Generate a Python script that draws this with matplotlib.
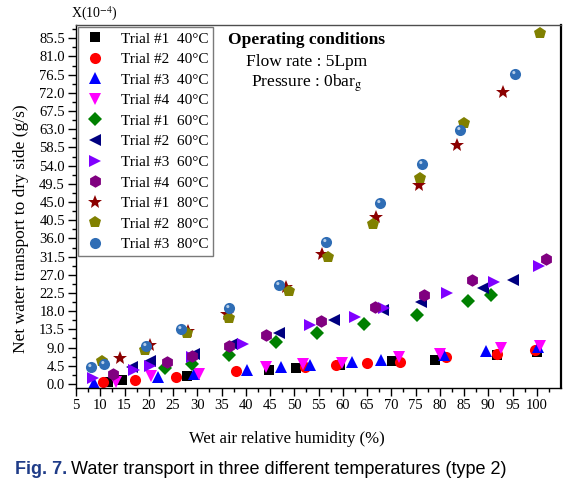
import numpy as np
import matplotlib
matplotlib.use("Agg")
import matplotlib.pyplot as plt
from matplotlib.path import Path

plt.rcParams['font.family'] = ['Liberation Serif', 'DejaVu Serif']
plt.rcParams['mathtext.fontset'] = 'stix'

# ---- data (x: wet air RH %, y: net water transport x1e-4 g/s) ----
t1_40_x = [11.5, 14.4, 27.8, 44.8, 50.3, 59.5, 70.2, 79.0, 91.8, 100.0]
t1_40_y = [0.5, 1.1, 1.9, 3.5, 4.0, 4.6, 5.6, 6.0, 7.1, 7.8]
t2_40_x = [10.5, 17.1, 25.6, 37.9, 52.3, 58.5, 64.9, 71.7, 81.3, 91.8, 99.7]
t2_40_y = [0.4, 1.1, 1.7, 3.1, 4.2, 4.8, 5.2, 5.4, 6.6, 7.5, 8.5]
t3_40_x = [8.8, 21.8, 29.3, 40.2, 47.2, 53.2, 61.9, 67.8, 80.8, 89.6, 100.3]
t3_40_y = [0.2, 1.7, 2.5, 3.5, 4.2, 4.8, 5.4, 6.0, 7.1, 8.1, 9.1]
t4_40_x = [13.2, 20.4, 30.4, 44.1, 51.8, 59.9, 71.5, 80.0, 92.7, 100.7]
t4_40_y = [0.6, 1.9, 2.5, 4.1, 4.9, 5.3, 6.7, 7.4, 8.8, 9.5]

t1_60_x = [23.4, 28.9, 36.5, 46.3, 54.7, 64.3, 75.4, 85.9, 90.6]
t1_60_y = [4.0, 5.0, 7.2, 10.4, 12.6, 14.8, 17.1, 20.4, 22.1]
t2_60_x = [16.5, 20.3, 29.3, 37.2, 46.8, 58.1, 68.3, 76.1, 88.9, 95.0]
t2_60_y = [4.2, 5.6, 7.5, 10.0, 12.6, 15.9, 18.2, 20.2, 23.7, 25.6]
t3_60_x = [8.6, 17.0, 20.3, 28.9, 39.5, 53.2, 62.6, 68.4, 81.5, 91.1, 100.5]
t3_60_y = [1.5, 3.5, 4.4, 6.7, 10.0, 14.5, 16.6, 18.9, 22.5, 25.1, 29.3]
t4_60_x = [12.7, 23.7, 28.9, 36.5, 44.2, 55.6, 66.6, 76.7, 86.6, 101.8]
t4_60_y = [2.5, 5.4, 6.8, 9.3, 12.0, 15.5, 19.0, 21.9, 25.8, 30.9]

t1_80_x = [14.1, 20.2, 28.1, 36.1, 48.3, 55.8, 66.9, 75.8, 83.5, 93.1]
t1_80_y = [6.4, 9.6, 13.0, 17.3, 23.9, 32.1, 41.2, 49.2, 59.1, 72.2]
t2_80_x = [10.4, 19.2, 27.8, 36.5, 48.9, 57.0, 66.3, 76.0, 84.9, 100.7]
t2_80_y = [5.6, 8.4, 12.6, 16.3, 22.9, 31.5, 39.5, 50.9, 64.5, 86.9]
t3_80_x = [8.1, 10.7, 19.4, 26.6, 36.5, 46.8, 56.6, 67.6, 76.3, 84.1, 95.5]
t3_80_y = [4.2, 5.0, 9.3, 13.7, 18.9, 24.4, 35.1, 44.7, 54.4, 62.7, 76.7]

labels = ["Trial #1  40\u00b0C", "Trial #2  40\u00b0C", "Trial #3  40\u00b0C", "Trial #4  40\u00b0C",
          "Trial #1  60\u00b0C", "Trial #2  60\u00b0C", "Trial #3  60\u00b0C", "Trial #4  60\u00b0C",
          "Trial #1  80\u00b0C", "Trial #2  80\u00b0C", "Trial #3  80\u00b0C"]

series = [(t1_40_x, t1_40_y), (t2_40_x, t2_40_y), (t3_40_x, t3_40_y), (t4_40_x, t4_40_y),
          (t1_60_x, t1_60_y), (t2_60_x, t2_60_y), (t3_60_x, t3_60_y), (t4_60_x, t4_60_y),
          (t1_80_x, t1_80_y), (t2_80_x, t2_80_y), (t3_80_x, t3_80_y)]
markers = ['s', 'o', '^', 'v', 'D', '<', '>', 'h', '*', 'p', 'o']
colors = ['#000000', '#FF0000', '#0000FF', '#FF00FF', '#008000', '#000080',
          '#8000FF', '#800080', '#8B0000', '#808000', '#2F6DB5']
sizes = [7, 8, 9, 9, 7, 9, 9, 9, 10, 9, 8]

fig = plt.figure(figsize=(5.79, 4.99), dpi=100)
ax = fig.add_axes([0.1313, 0.2224, 0.8377, 0.7276])

for (x, y), m, c, s, lab in zip(series, markers, colors, sizes, labels):
    ax.plot(x, y, linestyle='none', marker=m, color=c, markersize=s,
            markeredgewidth=0, label=lab)

# little highlight on the "sphere" markers
hl = Path.make_compound_path(Path([(1.0, 0.0)], [Path.MOVETO]),
                             Path.circle((-0.3, 0.35), 0.28))
ax.plot(t3_80_x, t3_80_y, linestyle='none', marker=hl, color='#D8E6F5',
        markersize=8, markeredgewidth=0, alpha=0.8)

ax.set_xlim(5, 105)
ax.set_ylim(-1.0, 88.8)
ax.set_xticks(np.arange(5, 101, 5))
ax.set_xticks(np.arange(7.5, 105, 5), minor=True)
ax.set_yticks(np.arange(0, 86, 4.5))
ax.set_yticks(np.arange(2.25, 88, 4.5), minor=True)
ax.set_yticklabels(["%.1f" % v for v in np.arange(0, 86, 4.5)])
ax.tick_params(which='major', direction='out', length=6, width=1, labelsize=10.5, pad=2)
ax.tick_params(which='minor', direction='out', length=3, width=1)
for sp in ax.spines.values():
    sp.set_linewidth(1.0)
ax.spines['right'].set_linewidth(1.6)
ax.spines['top'].set_color('0.3')

ax.set_xlabel("Wet air relative humidity (%)", fontsize=12)
ax.xaxis.set_label_coords(0.435, -0.117)
ax.set_ylabel("Net water transport to dry side (g/s)", fontsize=12.5)
ax.yaxis.set_label_coords(-0.097, 0.44)

ax.text(-0.01, 1.03, r"X(10$^{-4}$)", transform=ax.transAxes, fontsize=10,
        ha='left', va='center')

leg = ax.legend(loc='upper left', fontsize=11, frameon=True, fancybox=False,
                edgecolor='0.35', borderaxespad=0.15, borderpad=0.3,
                labelspacing=0.45, handletextpad=0.9, handlelength=1.6,
                numpoints=1)
leg.get_frame().set_linewidth(1.0)

ax.text(0.476, 0.958, "Operating conditions", transform=ax.transAxes,
        fontsize=12.5, fontweight='bold', ha='center', va='center')
ax.text(0.476, 0.898, "Flow rate : 5Lpm", transform=ax.transAxes,
        fontsize=12.5, ha='center', va='center')
ax.text(0.476, 0.840, r"Pressure : 0bar$_\mathrm{g}$", transform=ax.transAxes,
        fontsize=12.5, ha='center', va='center')

cap1 = fig.text(15 / 579, 1 - 470 / 499, "Fig. 7.", fontsize=13, fontweight='bold',
                color='#1F3C88', family='Liberation Sans', ha='left', va='center')
ax.annotate("Water transport in three different temperatures (type 2)",
            xy=(1, 0.5), xycoords=cap1, xytext=(3, 0), textcoords='offset points',
            fontsize=13, family='Liberation Sans', ha='left', va='center',
            annotation_clip=False)

fig.savefig("out.png", dpi=100)
